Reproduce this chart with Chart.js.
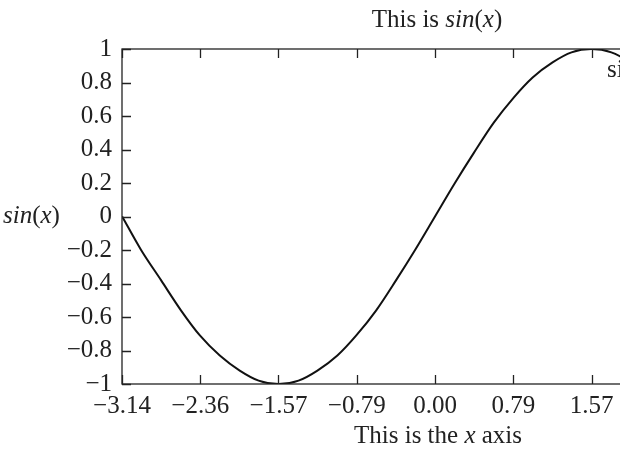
<!DOCTYPE html>
<html>
<head>
<meta charset="utf-8">
<script src="https://cdn.jsdelivr.net/npm/chart.js@4/dist/chart.umd.min.js"></script>
<style>
  html, body { margin: 0; padding: 0; background: #fff; }
  #wrap { width: 620px; height: 449px; overflow: hidden; position: relative; }
  #chart { display: block; }
</style>
</head>
<body>
<div id="wrap"><canvas id="chart" width="780" height="449"></canvas></div>
<script>
/* ---- data ---- */
const xValues = [-3.14, -2.95, -2.75, -2.55, -2.36, -2.16, -1.96, -1.77, -1.57, -1.37, -1.18, -0.98, -0.79, -0.59, -0.39, -0.20,
  0.00, 0.20, 0.39, 0.59, 0.79, 0.98, 1.18, 1.37, 1.57, 1.77, 1.96, 2.16, 2.36, 2.55, 2.75, 2.95, 3.14];
const yValues = [0.00, -0.20, -0.38, -0.56, -0.71, -0.83, -0.92, -0.98, -1.00, -0.98, -0.92, -0.83, -0.71, -0.56, -0.38, -0.20,
  0.00, 0.20, 0.38, 0.56, 0.71, 0.83, 0.92, 0.98, 1.00, 0.98, 0.92, 0.83, 0.71, 0.56, 0.38, 0.20, 0.00];
const xTickValues = [-3.1416, -2.3562, -1.5708, -0.7854, 0, 0.7854, 1.5708, 2.3562, 3.1416];
const yTickValues = [-1, -0.8, -0.6, -0.4, -0.2, 0, 0.2, 0.4, 0.6, 0.8, 1];

const FONT = "'Liberation Serif', 'DejaVu Serif', serif";
const SIZE = 25;
const minus = s => s.replace('-', '\u2212');

// draw a run of [text, italic] pieces
function richText(ctx, parts, x, y, align) {
  let total = 0;
  parts.forEach(p => { ctx.font = (p[1] ? 'italic ' : '') + SIZE + 'px ' + FONT; total += ctx.measureText(p[0]).width; });
  let cx = align === 'center' ? x - total / 2 : x;
  ctx.textAlign = 'left';
  ctx.textBaseline = 'alphabetic';
  parts.forEach(p => {
    ctx.font = (p[1] ? 'italic ' : '') + SIZE + 'px ' + FONT;
    ctx.fillText(p[0], cx, y);
    cx += ctx.measureText(p[0]).width;
  });
}

const frame = {
  id: 'frame',
  afterDatasetsDraw(chart) {
    const ctx = chart.ctx, a = chart.chartArea;
    const xs = chart.scales.x, ys = chart.scales.y;
    const tl = 9;
    ctx.save();
    ctx.strokeStyle = '#222';
    ctx.lineWidth = 1.3;
    ctx.strokeRect(a.left, a.top, a.right - a.left, a.bottom - a.top);
    ctx.beginPath();
    xs.ticks.forEach(t => {
      const px = Math.round(xs.getPixelForValue(t.value)) + 0.5;
      ctx.moveTo(px, a.bottom); ctx.lineTo(px, a.bottom - tl);
      ctx.moveTo(px, a.top); ctx.lineTo(px, a.top + tl);
    });
    ys.ticks.forEach(t => {
      const py = Math.round(ys.getPixelForValue(t.value)) + 0.5;
      ctx.moveTo(a.left, py); ctx.lineTo(a.left + tl, py);
      ctx.moveTo(a.right, py); ctx.lineTo(a.right - tl, py);
    });
    ctx.stroke();

    ctx.fillStyle = '#222';
    // title
    richText(ctx, [['This is ', false], ['sin', true], ['(', false], ['x', true], [')', false]], 437, 27, 'center');
    // x axis title
    richText(ctx, [['This is the ', false], ['x', true], [' axis', false]], 438, 443, 'center');
    // y axis title
    richText(ctx, [['sin', true], ['(', false], ['x', true], [')', false]], 3, 223, 'left');
    // legend
    richText(ctx, [['sin(x)', false]], 607, 77, 'left');
    ctx.restore();
  }
};

new Chart(document.getElementById('chart'), {
  type: 'line',
  data: {
    datasets: [{
      data: xValues.map((x, i) => ({ x: x, y: yValues[i] })),
      borderColor: '#111',
      borderWidth: 2,
      pointRadius: 0,
      cubicInterpolationMode: 'monotone',
      fill: false
    }]
  },
  options: {
    responsive: false,
    animation: false,
    layout: { padding: { top: 49, right: 32, left: 0, bottom: 0 } },
    plugins: { legend: { display: false }, tooltip: { enabled: false }, title: { display: false } },
    scales: {
      x: {
        type: 'linear',
        min: -Math.PI,
        max: Math.PI,
        afterBuildTicks: s => { s.ticks = xTickValues.map(v => ({ value: v })); },
        afterFit: s => { s.height = 65; },
        grid: { display: false, drawTicks: false },
        border: { display: false },
        ticks: {
          color: '#222',
          font: { family: FONT, size: SIZE },
          padding: 7,
          maxRotation: 0,
          autoSkip: false,
          callback: v => minus(v.toFixed(2)).replace('\u22120.00', '0.00')
        }
      },
      y: {
        min: -1,
        max: 1,
        afterBuildTicks: s => { s.ticks = yTickValues.map(v => ({ value: v })); },
        afterFit: s => { s.width = 122; },
        grid: { display: false, drawTicks: false },
        border: { display: false },
        ticks: {
          color: '#222',
          font: { family: FONT, size: SIZE },
          padding: 10,
          autoSkip: false,
          callback: v => minus(String(Number(v.toFixed(1))))
        }
      }
    }
  },
  plugins: [frame]
});
</script>
</body>
</html>
